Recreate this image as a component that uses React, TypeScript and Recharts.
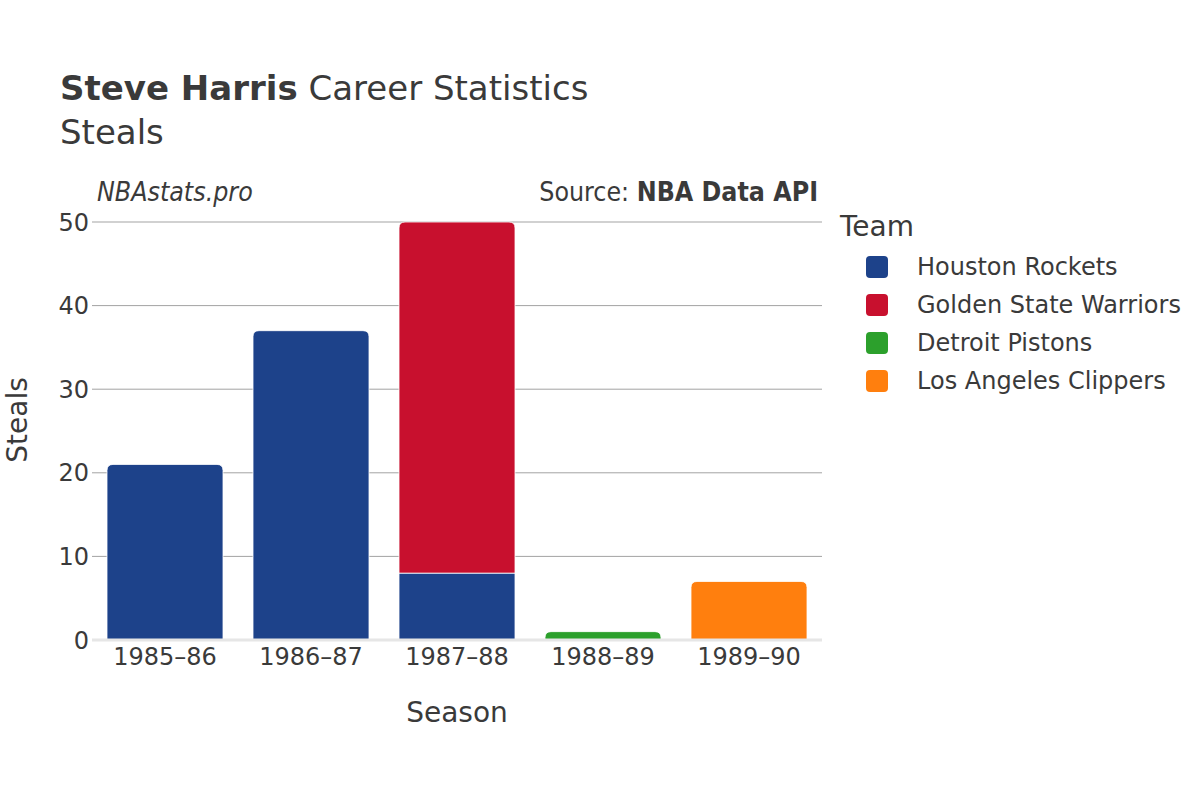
import React from 'react';
import { BarChart, Bar, XAxis, YAxis, CartesianGrid, ReferenceLine } from 'recharts';

const seasons = ['1985–86', '1986–87', '1987–88', '1988–89', '1989–90'];
const teams = ['Houston Rockets', 'Golden State Warriors', 'Detroit Pistons', 'Los Angeles Clippers'];
const teamColors = ['#1d428a', '#c8102e', '#2ca02c', '#ff7f0e'];
const houston = [21, 37, 8, 0, 0];
const goldenState = [0, 0, 42, 0, 0];
const detroit = [0, 0, 0, 1, 0];
const clippers = [0, 0, 0, 0, 7];
const yTicks = [0, 10, 20, 30, 40, 50];

const seriesValues = [houston, goldenState, detroit, clippers];
const keys = ['t0', 't1', 't2', 't3'];

const data = seasons.map((s, i) => {
  const row: any = { season: s };
  keys.forEach((k, j) => { row[k] = seriesValues[j][i]; });
  return row;
});

const TEXT = '#3a3a3a';
const FONT = "'DejaVu Sans', sans-serif";
const CFONT = "'DejaVu Sans Condensed', 'DejaVu Sans', sans-serif";

const makeShape = (idx: number) => (props: any) => {
  const { x, y, width, height, fill, payload } = props;
  if (!height || height <= 0) return <g />;
  const isTop = keys.slice(idx + 1).every((k) => !payload[k]);
  const r = isTop ? Math.min(6, height, width / 2) : 0;
  const d = `M${x},${y + height} L${x},${y + r} Q${x},${y} ${x + r},${y} L${x + width - r},${y} Q${x + width},${y} ${x + width},${y + r} L${x + width},${y + height} Z`;
  return <path d={d} fill={fill} stroke="#ffffff" strokeWidth={0.8} />;
};

const YLabel = (props: any) => {
  const vb = props.viewBox || {};
  const cy = vb.y + vb.height / 2 - 11;
  return (
    <text x={17} y={cy} transform={`rotate(-90 17 ${cy})`} textAnchor="middle" dominantBaseline="central"
      fill={TEXT} fontSize={28} fontFamily={FONT}>Steals</text>
  );
};

export default function App() {
  return (
    <div style={{ position: 'absolute', left: 0, top: 0, width: 1200, height: 800, background: '#fff' }}>
      <div style={{ position: 'absolute', left: 60, top: 66, fontFamily: FONT, fontSize: 34, color: TEXT, whiteSpace: 'nowrap', lineHeight: '44px' }}>
        <b>Steve Harris</b> Career Statistics
      </div>
      <div style={{ position: 'absolute', left: 60, top: 110, fontFamily: FONT, fontSize: 34, color: TEXT, lineHeight: '44px' }}>
        Steals
      </div>
      <div style={{ position: 'absolute', left: 97, top: 175, fontFamily: CFONT, fontStyle: 'italic', fontSize: 26.5, color: TEXT, lineHeight: '34px', whiteSpace: 'nowrap' }}>
        NBAstats.pro
      </div>
      <div style={{ position: 'absolute', right: 1200 - 818, top: 175, fontFamily: CFONT, fontSize: 26.5, color: TEXT, lineHeight: '34px', whiteSpace: 'nowrap' }}>
        Source: <b>NBA Data API</b>
      </div>
      <div style={{ position: 'absolute', left: 840, top: 208, fontFamily: FONT, color: TEXT }}>
        <div style={{ fontSize: 28, lineHeight: '38px', marginBottom: 2 }}>Team</div>
        {teams.map((t, i) => (
          <div key={t} style={{ display: 'flex', alignItems: 'center', height: 38, fontSize: 24, whiteSpace: 'nowrap' }}>
            <div style={{ width: 22, height: 22, borderRadius: 4, background: teamColors[i], marginLeft: 26, marginRight: 29 }} />
            <span>{t}</span>
          </div>
        ))}
      </div>
      <div style={{ position: 'absolute', left: 0, top: 0 }}>
        <BarChart width={1200} height={800} data={data} margin={{ top: 222, right: 378, bottom: 100, left: 0 }}>
          <CartesianGrid vertical={false} stroke="#a3a3a3" />
          <XAxis dataKey="season" tickLine={false} axisLine={false} height={60}
            tick={{ fill: TEXT, fontSize: 24, fontFamily: FONT }}
            label={{ value: 'Season', position: 'bottom', offset: 2, fill: TEXT, fontSize: 28, fontFamily: FONT }} />
          <YAxis type="number" domain={[0, 50]} ticks={yTicks} width={92} tickLine={false} axisLine={false}
            tickSize={3} tickMargin={0} interval={0}
            tick={{ fill: TEXT, fontSize: 24, fontFamily: FONT }} label={<YLabel />} />
          <ReferenceLine y={0} stroke="#e6e6e6" strokeWidth={3} />
          {keys.map((k, i) => (
            <Bar key={k} dataKey={k} name={teams[i]} stackId="a" fill={teamColors[i]} barSize={116}
              isAnimationActive={false} shape={makeShape(i)} />
          ))}
        </BarChart>
      </div>
    </div>
  );
}
